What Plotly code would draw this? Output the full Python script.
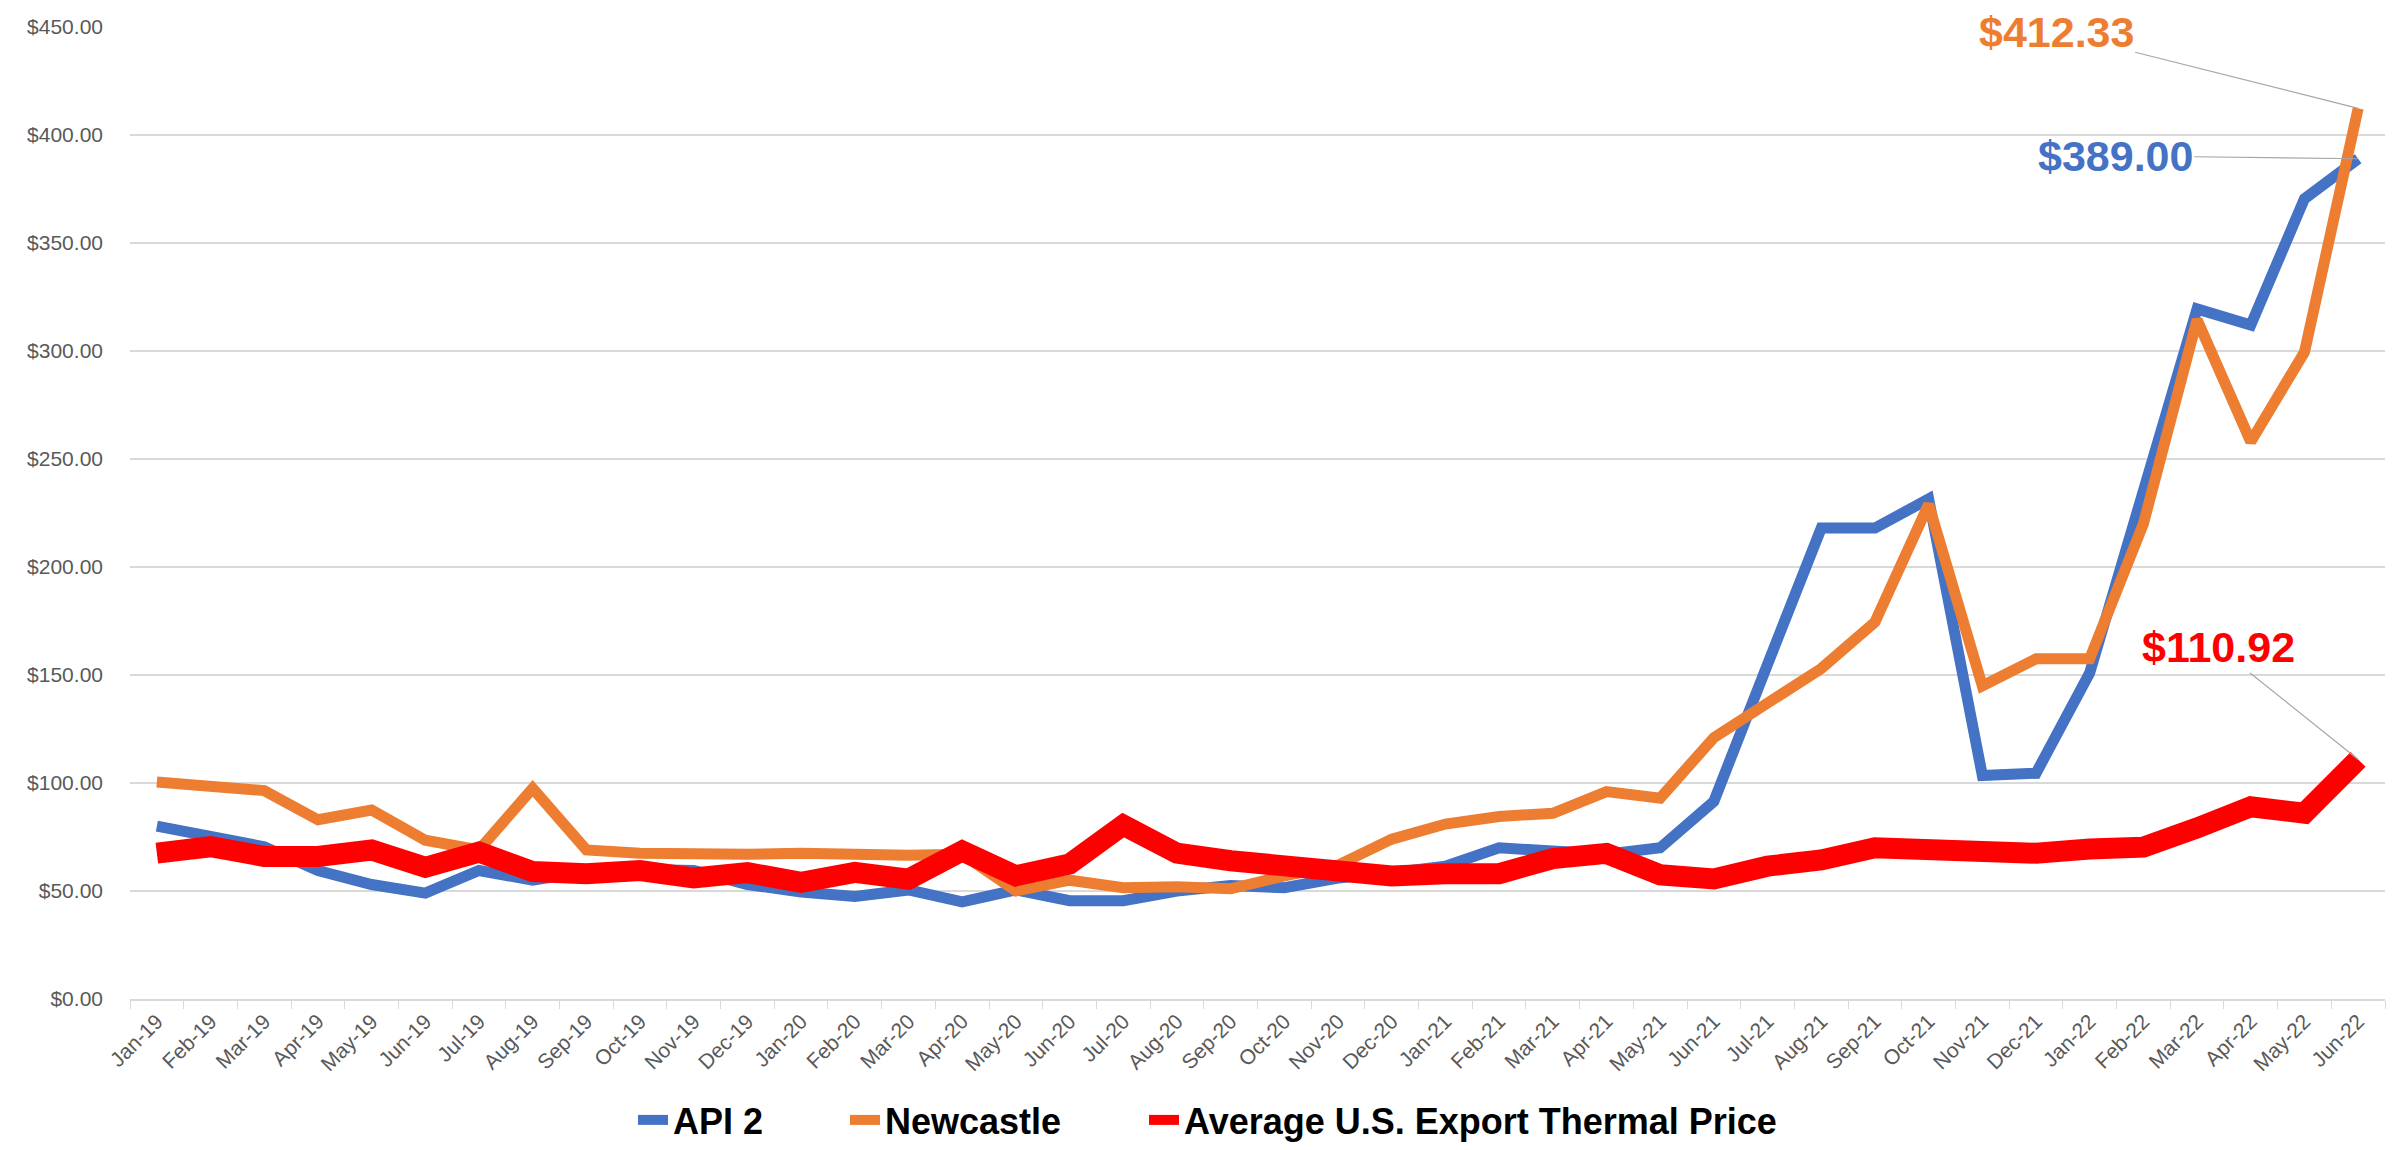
import plotly.graph_objects as go

months = ["Jan-19","Feb-19","Mar-19","Apr-19","May-19","Jun-19","Jul-19","Aug-19","Sep-19","Oct-19","Nov-19","Dec-19",
          "Jan-20","Feb-20","Mar-20","Apr-20","May-20","Jun-20","Jul-20","Aug-20","Sep-20","Oct-20","Nov-20","Dec-20",
          "Jan-21","Feb-21","Mar-21","Apr-21","May-21","Jun-21","Jul-21","Aug-21","Sep-21","Oct-21","Nov-21","Dec-21",
          "Jan-22","Feb-22","Mar-22","Apr-22","May-22","Jun-22"]

api2 = [80, 75.5, 70.5, 59.5, 53, 49, 59.5, 55, 59, 60, 59.5, 53,
        49.5, 47.5, 50.5, 45, 50.5, 45.5, 45.5, 50, 52.5, 51.5, 56, 58.5,
        61.5, 70, 68.5, 67, 70, 91.5, 155, 218, 218, 231.5, 103.5, 104.5,
        151, 235, 319.5, 312, 370.5, 389.00]

newcastle = [100.5, 98, 96.5, 83, 87.5, 73.5, 69, 97.5, 69, 67.5, 67, 67,
             67.5, 66.5, 66.5, 67, 50, 55, 51.5, 52, 51, 57, 62, 74,
             81, 84.5, 86, 96, 93, 121, 137.5, 153, 174.5, 229, 145, 157.5,
             157.5, 220, 314.5, 258, 299.5, 412.33]

us_export = [67.5, 70.5, 66, 66, 69, 61, 68, 59, 58, 59.5, 56, 58.5,
             54, 58.6, 55.5, 68.5, 57, 62.5, 80.5, 67.5, 64, 61, 58.6, 57,
             58, 58, 65, 67.4, 57.5, 55.6, 61.5, 64.4, 70, 69.4, 66.5, 67.5,
             69.4, 70.3, 79.2, 89, 86, 110.92]

y_ticks = [0, 50, 100, 150, 200, 250, 300, 350, 400, 450]
y_ticktext = ["$%.2f" % v for v in y_ticks]

BLUE = "#4472C4"
ORANGE = "#ED7D31"
RED = "#FF0000"

W, H = 2394, 1150
ML, MR, MT, MB = 122, 17, 19, 159
PW, PH = W - ML - MR, H - MT - MB
legend_font = dict(family="Liberation Sans, Arial, sans-serif", size=36,
                   color="black", weight="bold")

fig = go.Figure()
fig.add_trace(go.Scatter(x=months, y=api2, mode="lines", name="API 2",
                         line=dict(color=BLUE, width=11), legend="legend"))
fig.add_trace(go.Scatter(x=months, y=newcastle, mode="lines", name="Newcastle",
                         line=dict(color=ORANGE, width=11), legend="legend2"))
fig.add_trace(go.Scatter(x=months, y=us_export, mode="lines", name="Average U.S. Export Thermal Price",
                         line=dict(color=RED, width=21), legend="legend3"))

label_font = "Liberation Sans, Arial, sans-serif"
anns = [
    (newcastle[-1], "$%.2f" % newcastle[-1], ORANGE, -302, -76),
    (api2[-1], "$%.2f" % api2[-1], BLUE, -243, -3),
    (us_export[-1], "$%.2f" % us_export[-1], RED, -140, -112),
]
for yv, txt, col, ax, ay in anns:
    fig.add_annotation(x=months[-1], y=yv, text=txt, showarrow=True, arrowhead=0,
                       arrowwidth=1.2, arrowcolor="#A6A6A6", ax=ax, ay=ay,
                       font=dict(family=label_font, size=43, color=col, weight="bold"))

def leg(text_x):
    return dict(orientation="h",
                x=(text_x - 48 - ML) / PW, xanchor="left",
                y=(H - MB - 1112) / PH, yanchor="middle",
                font=legend_font, bgcolor="rgba(0,0,0,0)", borderwidth=0)

fig.update_layout(
    width=W, height=H,
    margin=dict(l=ML, r=MR, t=MT, b=MB, autoexpand=False),
    plot_bgcolor="white", paper_bgcolor="white",
    showlegend=True,
    legend=leg(673),
    legend2=leg(885),
    legend3=leg(1184),
    font=dict(family="Liberation Sans, Arial, sans-serif"),
)
fig.update_xaxes(type="category", range=[-0.5, len(months) - 0.5], tickangle=-45, showgrid=False,
                 automargin=False,
                 showline=True, linecolor="#D9D9D9", linewidth=1.5,
                 ticks="outside", tickson="boundaries", ticklen=8, tickcolor="#D9D9D9",
                 tickfont=dict(size=21, color="#595959"))
fig.update_yaxes(range=[0, 450], tickvals=y_ticks, ticktext=y_ticktext,
                 automargin=False,
                 showgrid=True, gridcolor="#D9D9D9", gridwidth=1.5, zeroline=False,
                 ticks="", ticklabelstandoff=26,
                 tickfont=dict(size=21, color="#595959"))

fig.write_html("out.html")
